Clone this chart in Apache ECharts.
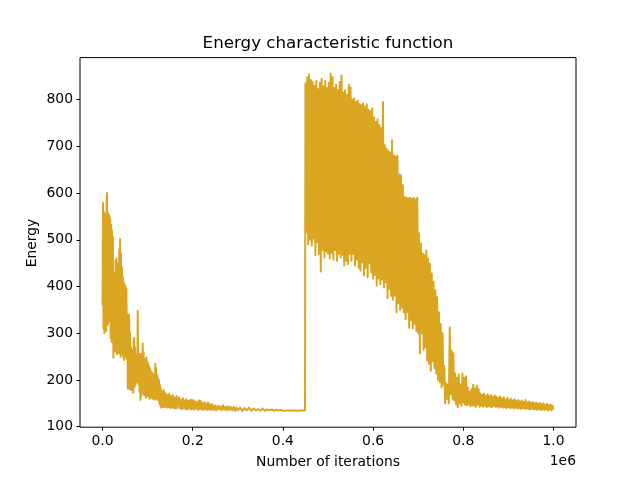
<!DOCTYPE html>
<html lang="en">
<head>
<meta charset="UTF-8">
<title>Energy characteristic function</title>
<script src="https://cdn.jsdelivr.net/npm/echarts@6/dist/echarts.min.js"></script>
<style>
  html, body { margin: 0; padding: 0; width: 100%; height: 100%; background: #fff; }
  #chart { width: 640px; height: 480px; }
</style>
</head>
<body>
<div id="chart"></div>
<script>
var phase1Iter = [0,1,2,3,4,5,6,7,8,9,10,11,12,13,14,15,16,17,18,19,
  20,21,22,23,24,25,26,27,28,29,30,31,32,33,34,35,36,37,38,39,
  40,41,42,43,44,45,46,47,48,49,50,51,52,53,54,55,56,57,58,59,
  60,61,62,63,64,65,66,67,68,69,70,71,72,73,74,75,76,77,78,79,
  80,81,82,83,84,85,86,87,88,89,90,91,92,93,94,95,96,97,98,99,
  100,101,102,103,104,105,106,107,108,109,110,111,112,113,114,115,116,117,118,119,
  120,121,122,123,124,125,126,127,128,129,130,
  132,134,136,138,140,142,144,146,148,150,152,154,156,158,160,162,164,166,168];
var phase1Energy = [360,579,310,560,300,555,330,540,305,590,
  600,340,318,556,330,552,325,545,290,532,
  282,520,300,505,248,412,270,430,262,455,
  260,460,255,450,270,445,258,480,265,502,
  250,470,262,440,255,420,248,410,243,405,
  255,400,250,395,245,340,182,335,190,340,
  180,300,186,270,178,265,182,262,172,285,
  290,185,270,190,255,195,240,198,348,200,
  190,255,175,250,157,256,165,250,172,278,
  175,260,168,240,170,245,162,248,168,240,
  165,236,170,230,160,226,165,220,162,215,
  168,215,160,210,165,205,158,235,160,225,
  162,210,158,205,160,200,150,190,145,184,141,
  176,142,178,143,171,141,168,142,171,140,165,141,168,140,162,139,166,140,139];

var phase2Iter = [170,172,174,176,178,180,182,184,186,188,
  190,192,194,196,198,200,202,204,206,208,
  210,212,214,216,218,220,222,224,226,228,
  230,232,234,236,238,240,
  243,246,249,252,255,258,261,264,267,270,
  273,276,279,282,285,288,291,294,297,300,
  305,310,315,320,325,330,335,340,345,350,
  355,360,365,370,375,380,385,390,395,400,
  410,420,430,440,449];
var phase2Energy = [163,139,158,137,161,140,156,138,159,137,
  155,139,157,137,158,138,156,137,154,139,
  153,136,156,138,155,137,150,136,153,138,
  149,136,152,137,148,136,
  148,136,146,135,145,137,144,135,146,136,
  143,135,144,136,142,135,143,134,141,135,
  141,134,140,135,141,134,139,135,138,134,
  139,134,137,135,137,134,136,135,136,134,
  135,135,134,135,135];

var phase3Iter = [450,452,454,456,458,460,462,464,466,468,
  470,472,474,476,478,480,482,484,486,488,
  490,492,494,496,498,500,502,504,506,508,
  510,512,514,516,518,520,522,524,526,528,
  530,532,534,536,538,540,542,544,546,548,
  550,552,554,556,558,560,562,564,566,568,
  570,572,574,576,578,580,582,584,586,588,
  590,592,594,596,598,600,602,604,606,608,
  610,612,614,616,618,620,622,624,626,628,
  630,632,634,636,638,640,642,644,646,648,
  650,652,654,656,658,660,662,664,666,668,
  670,672,674,676,678,680,682,684,686,688,
  690,692,694,696,698,700,702,704,706,708,
  710,712,714,716,718,720,722,724,726,728,
  730,732,734,736,738,740,742,744,746,748,
  750,752,754,756,758,760,762,764,766,768,
  770,772,774,776,778,780];
var phase3Energy = [835,517,848,490,854,500,842,488,838,503,
  830,467,840,495,822,470,836,432,845,478,
  828,462,840,475,825,470,836,460,856,472,
  848,458,825,478,832,455,820,470,838,462,
  852,468,815,445,820,455,810,448,832,470,
  826,455,800,470,803,445,795,458,798,440,
  790,434,788,452,792,424,785,440,790,420,
  778,450,775,430,781,417,762,425,752,402,
  758,418,745,405,740,415,795,398,703,409,
  695,375,690,395,687,380,713,372,681,381,
  678,345,680,365,640,350,638,355,617,345,
  591,330,590,345,589,312,590,328,588,310,
  590,320,586,305,590,300,514,257,492,300,
  471,265,467,270,477,242,460,235,449,220,
  428,240,410,225,392,214,377,200,345,195,
  320,184,300,190,230,150,193,160,190,150,
  313,170,263,160,257,156];

var phase4Iter = [782,784,786,788,790,792,794,796,798,800,
  802,804,806,808,810,812,814,816,818,820,
  822,824,826,828,830,832,834,836,838,840,
  842,844,846,848,850,852,854,856,858,860,
  862,864,866,868,870,872,874,876,878,880,
  882,884,886,888,890,892,894,896,898,900,
  902,904,906,908,910,912,914,916,918,920,
  922,924,926,928,930,932,934,936,938,940,
  942,944,946,948,950,952,954,956,958,960,
  962,964,966,968,970,972,974,976,978,980,
  982,984,986,988,990,992,994,996,998,1000];
var phase4Energy = [214,148,205,142,212,150,190,145,214,152,
  205,147,208,146,184,148,175,144,180,146,
  190,145,182,143,188,148,180,143,171,145,
  168,143,171,145,166,142,170,144,165,143,
  168,142,163,145,167,142,164,144,162,141,
  165,143,160,141,163,142,158,140,162,142,
  157,140,160,141,156,139,159,141,155,139,
  157,140,154,138,156,140,153,138,157,139,
  152,138,154,137,151,139,153,137,150,138,
  152,136,149,138,151,136,148,137,150,136,
  147,137,149,135,146,137,147,135,145,137];

var xTicks = [0, 200000, 400000, 600000, 800000, 1000000];
var yTicks = [100, 200, 300, 400, 500, 600, 700, 800];

var font = 'DejaVu Sans';
var lineColor = '#DAA520';

function buildSeries() {
  var iters = [phase1Iter, phase2Iter, phase3Iter, phase4Iter];
  var vals = [phase1Energy, phase2Energy, phase3Energy, phase4Energy];
  var out = [];
  for (var p = 0; p < iters.length; p++) {
    for (var i = 0; i < iters[p].length; i++) {
      out.push([iters[p][i] * 1000, vals[p][i]]);
    }
  }
  return out;
}

var myChart = echarts.init(document.getElementById('chart'), null, { renderer: 'canvas' });
var options = {
  animation: false,
  backgroundColor: '#fff',
  grid: {
    left: 80, right: 64, top: 57.6, bottom: 52.8,
    show: true, borderColor: '#000', borderWidth: 1, backgroundColor: 'transparent'
  },
  xAxis: {
    type: 'value',
    min: -50000,
    max: 1050000,
    axisLine: { show: false, onZero: false },
    splitLine: { show: false },
    axisTick: { show: true, length: 3.5, lineStyle: { color: '#000', width: 1 }, customValues: xTicks },
    axisLabel: {
      customValues: xTicks,
      margin: 7,
      color: '#000',
      fontFamily: font,
      fontSize: 13.9,
      formatter: function(v) { return (v / 1e6).toFixed(1); }
    }
  },
  yAxis: {
    type: 'value',
    min: 99,
    max: 890,
    axisLine: { show: false, onZero: false },
    splitLine: { show: false },
    axisTick: { show: true, length: 3.5, lineStyle: { color: '#000', width: 1 }, customValues: yTicks },
    axisLabel: {
      customValues: yTicks,
      margin: 7,
      color: '#000',
      fontFamily: font,
      fontSize: 13.9
    }
  },
  graphic: [
    { type: 'text', x: 328, y: 44, style: { text: 'Energy characteristic function', fill: '#000', font: '16.7px "DejaVu Sans"', textAlign: 'center', textVerticalAlign: 'middle' } },
    { type: 'text', x: 328, y: 462, style: { text: 'Number of iterations', fill: '#000', font: '13.9px "DejaVu Sans"', textAlign: 'center', textVerticalAlign: 'middle' } },
    { type: 'text', x: 576, y: 461, style: { text: '1e6', fill: '#000', font: '13.9px "DejaVu Sans"', textAlign: 'right', textVerticalAlign: 'middle' } },
    { type: 'text', x: 32, y: 243, rotation: Math.PI / 2, style: { text: 'Energy', fill: '#000', font: '13.9px "DejaVu Sans"', textAlign: 'center', textVerticalAlign: 'middle' } }
  ],
  series: [{
    type: 'line',
    data: buildSeries(),
    showSymbol: false,
    symbol: 'none',
    sampling: null,
    clip: true,
    lineStyle: { color: lineColor, width: 2, join: 'round' }
  }]
};
myChart.setOption(options);
</script>
</body>
</html>
